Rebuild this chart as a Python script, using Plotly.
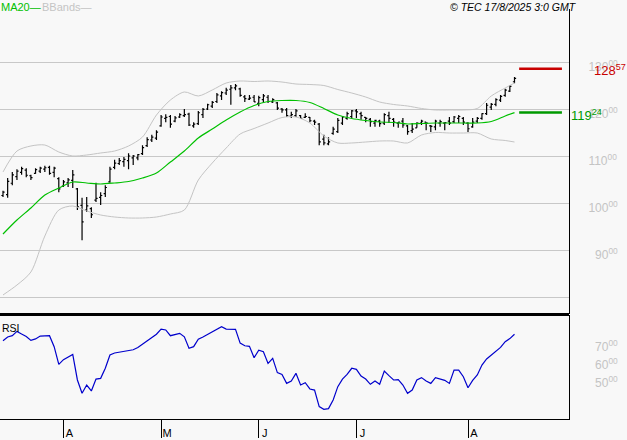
import plotly.graph_objects as go

# ---------------- data ----------------
open_ = [101.6, 101.8, 104.2, 105.6, 106.5, 107.0, 105.8, 106.3, 106.8, 107.2,
         107.6, 106.5, 105.2, 103.6, 104.3, 104.8, 103.0, 99.5, 98.5, 98.8,
         100.6, 101.2, 102.0, 104.5, 107.6, 108.4, 108.8, 109.0, 109.6, 109.6,
         110.5, 112.2, 113.4, 113.8, 116.4, 118.0, 118.4, 117.4, 118.3, 118.6,
         118.9, 116.4, 116.9, 118.8, 120.0, 120.6, 121.6, 122.8, 123.4, 124.2,
         124.5, 124.3, 122.6, 122.1, 122.5, 121.2, 122.0, 122.5, 121.5, 121.3,
         120.0, 119.8, 118.5, 118.6, 118.6, 118.2, 118.2, 117.4, 116.8, 113.6,
         112.6, 114.8, 115.2, 117.0, 118.0, 118.4, 119.6, 119.0, 118.2, 117.8,
         117.0, 117.4, 117.0, 118.6, 117.8, 117.0, 117.4, 116.4, 115.4, 116.0,
         117.0, 117.2, 116.4, 116.2, 117.0, 117.0, 117.4, 117.3, 118.0, 118.0,
         117.0, 116.2, 117.4, 118.0, 119.0, 120.4, 121.0, 121.9, 122.9, 123.8,
         125.8]
high = [102.6, 105.3, 106.6, 107.2, 107.7, 107.4, 106.0, 107.4, 107.7, 107.9,
        107.9, 107.7, 105.5, 104.9, 105.3, 107.0, 103.2, 101.1, 101.3, 99.1,
        104.3, 102.3, 103.8, 107.7, 109.2, 109.6, 109.8, 110.6, 110.2, 110.4,
        112.3, 114.0, 114.5, 115.5, 118.7, 118.9, 118.7, 118.5, 119.1, 120.0,
        119.2, 117.2, 119.6, 120.2, 121.1, 121.7, 123.4, 123.8, 124.5, 125.1,
        125.3, 124.5, 123.0, 123.0, 123.0, 122.8, 123.2, 123.0, 122.3, 121.5,
        120.2, 120.2, 119.4, 120.0, 118.7, 119.1, 118.3, 117.7, 117.0, 114.5,
        114.0, 116.2, 118.1, 118.5, 119.4, 119.8, 120.0, 119.4, 118.3, 118.1,
        117.7, 117.7, 119.1, 119.4, 118.1, 117.2, 118.1, 116.6, 117.0, 117.2,
        117.7, 117.2, 116.6, 117.7, 117.7, 117.2, 118.3, 118.5, 118.7, 118.3,
        117.2, 118.1, 118.3, 119.1, 121.3, 121.3, 122.3, 123.0, 124.3, 125.1,
        126.8]
low = [101.3, 101.1, 103.8, 104.9, 106.0, 105.5, 104.9, 106.2, 106.4, 106.6,
       106.0, 105.5, 102.3, 103.4, 103.4, 103.2, 98.5, 92.1, 98.1, 96.8,
       100.2, 99.6, 101.3, 104.3, 107.2, 108.1, 107.7, 107.2, 108.1, 109.1,
       110.2, 111.9, 113.0, 113.4, 116.2, 117.2, 116.0, 117.2, 118.1, 118.3,
       116.4, 116.0, 116.6, 118.1, 119.8, 120.2, 121.3, 121.9, 123.0, 120.9,
       124.0, 122.6, 121.5, 121.9, 121.5, 120.6, 121.3, 121.3, 121.3, 119.8,
       119.2, 118.3, 118.1, 118.3, 117.9, 118.1, 117.2, 116.6, 112.3, 112.3,
       112.3, 114.5, 114.9, 116.6, 117.7, 118.1, 118.1, 117.7, 117.2, 116.2,
       116.2, 116.2, 116.6, 117.0, 116.2, 116.0, 116.0, 114.5, 114.9, 116.0,
       116.6, 115.5, 115.1, 115.5, 116.2, 115.5, 116.6, 117.0, 117.0, 116.6,
       115.1, 116.0, 117.0, 117.7, 118.7, 119.8, 120.6, 121.5, 122.6, 123.6,
       125.5]
close = [102.3, 104.6, 106.0, 106.8, 107.3, 105.9, 105.4, 107.1, 107.4, 107.5,
         106.3, 107.4, 103.0, 104.5, 104.9, 106.0, 99.2, 96.0, 99.4, 97.5,
         101.0, 101.6, 103.3, 107.2, 108.5, 109.0, 109.3, 110.0, 110.0, 110.3,
         111.8, 113.5, 114.0, 115.1, 118.3, 118.2, 116.8, 118.1, 118.8, 118.8,
         116.6, 116.8, 119.2, 119.9, 120.9, 121.4, 123.0, 123.5, 124.0, 124.5,
         124.9, 122.9, 122.2, 122.3, 121.5, 122.4, 122.8, 121.6, 122.0, 120.2,
         119.8, 118.6, 118.8, 119.6, 118.0, 118.4, 117.5, 117.2, 113.0, 112.8,
         113.0, 115.7, 117.6, 118.3, 119.0, 119.6, 119.4, 118.6, 118.0, 117.3,
         117.6, 116.9, 118.8, 118.0, 117.2, 117.2, 116.6, 115.2, 115.7, 117.0,
         117.4, 117.0, 116.3, 117.4, 117.3, 117.1, 117.0, 118.3, 118.4, 117.2,
         115.8, 117.2, 118.0, 119.0, 120.8, 121.0, 122.0, 122.7, 124.0, 124.8,
         126.5]

rsi = [70.7, 72.8, 73.5, 75.9, 74.4, 73.1, 70.9, 71.7, 73.3, 73.3,
       73.5, 67.4, 57.6, 60.2, 61.5, 63.1, 48.9, 41.5, 46.1, 42.8,
       49.4, 49.8, 55.4, 62.8, 63.9, 64.4, 64.8, 65.6, 65.7, 66.9,
       68.7, 70.6, 72.4, 74.3, 77.2, 76.7, 73.5, 74.3, 74.8, 72.9,
       66.5, 67.4, 71.5, 72.8, 74.3, 75.4, 77.2, 78.5, 77.2, 77.0,
       77.0, 69.4, 67.9, 67.6, 61.3, 65.4, 64.6, 58.1, 60.9, 53.0,
       52.0, 47.0, 48.3, 52.6, 46.1, 47.4, 43.9, 43.3, 34.1, 32.6,
       33.0, 37.8, 45.2, 49.4, 52.0, 55.4, 54.8, 51.1, 49.4, 46.5,
       48.3, 46.5, 53.9, 51.3, 48.9, 49.1, 46.1, 41.5, 43.3, 48.9,
       50.2, 48.3, 47.0, 50.2, 49.4, 48.7, 47.0, 54.4, 54.4, 50.7,
       44.6, 48.7, 51.7, 57.2, 60.6, 62.8, 65.2, 67.0, 70.2, 71.9,
       74.3]

band_idx = [0, 3, 6, 9, 12, 15, 18, 21, 24, 27, 30, 33, 36, 39, 42, 45, 48, 51, 54,
            57, 60, 63, 66, 69, 72, 75, 78, 81, 84, 87, 90, 93, 96, 99, 102, 105, 108, 110]
ma20 = [93.40, 96.38, 98.94, 101.70, 103.19, 104.47, 104.26, 104.04, 104.26, 104.57,
        105.32, 106.38, 108.72, 111.06, 113.83, 115.74, 117.66, 119.36, 120.74, 121.60,
        121.81, 121.81, 121.38, 120.11, 118.72, 117.98, 117.55, 117.23, 117.13, 116.81,
        116.91, 117.02, 117.02, 117.02, 117.02, 117.34, 118.51, 119.24]
upper = [106.60, 111.06, 112.13, 112.34, 110.85, 110.00, 110.21, 110.64, 111.06, 112.13,
         114.04, 118.72, 121.91, 123.62, 122.77, 124.04, 125.53, 125.96, 125.85, 125.96,
         125.74, 125.32, 125.21, 125.00, 124.15, 123.40, 122.55, 121.49, 120.96, 120.64,
         120.11, 119.79, 119.79, 119.79, 120.11, 122.77, 124.47, 125.53]
lower = [80.43, 82.55, 85.32, 92.98, 98.51, 99.36, 98.30, 97.45, 97.02, 96.81,
         96.81, 97.02, 97.66, 98.51, 104.89, 108.51, 111.70, 114.68, 115.85, 117.02,
         118.19, 118.30, 117.02, 114.26, 112.77, 112.77, 112.98, 113.19, 113.19, 112.77,
         114.47, 115.00, 114.89, 114.89, 114.89, 113.62, 113.30, 112.98]

month_idx = [13, 34, 55, 76, 100]
month_lbl = ["A", "M", "J", "J", "A"]
price_ticks = [80, 90, 100, 110, 120, 130]
rsi_ticks = [50, 60, 70]
last_price = 128.57
last_ma = 119.24
stamp = "© TEC 17/8/2025 3:0 GMT"

# ---------------- figure ----------------
FONT = "Liberation Sans, Arial, sans-serif"
BG = "#f8f8f8"
GRID = "#c8c8c8"
LBL = "#c4c4c4"
MA_C = "#00c000"
BB_C = "#c4c4c4"

n = len(close)
x = list(range(n))

fig = go.Figure()
fig.add_trace(go.Scatter(x=band_idx, y=upper, mode="lines",
                         line=dict(color=BB_C, width=1, shape="spline", smoothing=0.8),
                         hoverinfo="skip"))
fig.add_trace(go.Scatter(x=band_idx, y=lower, mode="lines",
                         line=dict(color=BB_C, width=1, shape="spline", smoothing=0.8),
                         hoverinfo="skip"))
fig.add_trace(go.Scatter(x=band_idx, y=ma20, mode="lines",
                         line=dict(color=MA_C, width=1.2, shape="spline", smoothing=0.8),
                         hoverinfo="skip"))
fig.add_trace(go.Ohlc(x=x, open=open_, high=high, low=low, close=close,
                      increasing=dict(line=dict(color="black", width=1.2)),
                      decreasing=dict(line=dict(color="black", width=1.2)),
                      tickwidth=0.35))
# last-value markers at the right end
fig.add_trace(go.Scatter(x=[n, n + 9.2], y=[last_price, last_price], mode="lines",
                         line=dict(color="#c80000", width=2.5), hoverinfo="skip"))
fig.add_trace(go.Scatter(x=[n, n + 9.2], y=[last_ma, last_ma], mode="lines",
                         line=dict(color="#009a00", width=2.5), hoverinfo="skip"))
# RSI
fig.add_trace(go.Scatter(x=x, y=rsi, mode="lines", xaxis="x2", yaxis="y2",
                         line=dict(color="#0000cc", width=1.2), hoverinfo="skip"))

FS = "\u2007"
def price_txt(v):
    if v == 80:
        return " "
    s = str(v)
    return FS * (3 - len(s)) + s + "<sup>00</sup>"

def rsi_txt(v):
    return FS + str(v) + "<sup>00</sup>"

PLOT_W = 569.0
PLOT_H = 410.0
price_dom = [(419 - 314) / PLOT_H, 1.0]
rsi_dom = [0.0, (419 - 315) / PLOT_H]
xr = [-0.645, 121.72]

fig.update_layout(
    width=627, height=440,
    margin=dict(l=0, r=58, t=9, b=21, autoexpand=False),
    paper_bgcolor=BG, plot_bgcolor=BG,
    showlegend=False,
    font=dict(family=FONT, size=11, color="black"),
    xaxis=dict(domain=[0, 1], anchor="y", range=xr, showticklabels=False,
               showgrid=False, zeroline=False, showline=False, ticks="",
               rangeslider=dict(visible=False), fixedrange=True),
    xaxis2=dict(domain=[0, 1], anchor="y2", range=xr, matches="x",
                tickmode="array", tickvals=month_idx, ticktext=month_lbl,
                ticks="outside", ticklen=18, tickwidth=1, tickcolor="black",
                tickfont=dict(family=FONT, size=11, color="black"),
                ticklabelstandoff=-14, ticklabelshift=6,
                showgrid=False, zeroline=False, automargin=False,
                showline=True, linecolor="black", linewidth=1),
    yaxis=dict(domain=price_dom, anchor="x", side="right",
               range=[76.383, 141.277],
               tickmode="array", tickvals=price_ticks,
               ticktext=[price_txt(v) for v in price_ticks],
               tickfont=dict(family=FONT, size=12, color=LBL),
               ticks="", ticklabelstandoff=16, ticklabelshift=5,
               showgrid=True, gridcolor=GRID, gridwidth=1, zeroline=False,
               automargin=False,
               showline=True, linecolor="black", linewidth=1),
    yaxis2=dict(domain=rsi_dom, anchor="x2", side="right",
                range=[27.22, 85.0],
                tickmode="array", tickvals=rsi_ticks,
                ticktext=[rsi_txt(v) for v in rsi_ticks],
                tickfont=dict(family=FONT, size=12, color=LBL),
                ticks="", ticklabelstandoff=16, ticklabelshift=5,
                showgrid=False, zeroline=False, automargin=False,
                showline=True, linecolor="black", linewidth=1),
)

# thick separator between the panels
fig.add_shape(type="line", xref="paper", yref="paper", x0=0, x1=1,
              y0=(419 - 314.5) / PLOT_H, y1=(419 - 314.5) / PLOT_H,
              line=dict(color="black", width=3))

def py(pix):
    return (419 - pix) / PLOT_H

def px(pix):
    return pix / PLOT_W

anns = [
    dict(text="MA20—", x=px(0), y=py(0), xanchor="left", yanchor="top",
         font=dict(family=FONT, size=11, color=MA_C)),
    dict(text="BBands—", x=px(41), y=py(0), xanchor="left", yanchor="top",
         font=dict(family=FONT, size=11, color=BB_C)),
    dict(text="<i>" + stamp + "</i>", x=px(449), y=py(0), xanchor="left", yanchor="top",
         font=dict(family=FONT, size=10.5, color="black")),
    dict(text="RSI", x=px(1), y=py(327.5), xanchor="left", yanchor="middle",
         font=dict(family=FONT, size=10.5, color="black")),
]
for a in anns:
    a.update(xref="paper", yref="paper", showarrow=False, borderpad=0)
    fig.add_annotation(**a)

fig.add_annotation(text="128<sup>57</sup>", xref="paper", yref="y", x=px(593), y=last_price,
                   xanchor="left", yanchor="middle", yshift=-1, showarrow=False, borderpad=0,
                   font=dict(family=FONT, size=13, color="#c80000"))
fig.add_annotation(text="119<sup>24</sup>", xref="paper", yref="y", x=px(570), y=last_ma,
                   xanchor="left", yanchor="middle", yshift=-2, showarrow=False, borderpad=0,
                   font=dict(family=FONT, size=13, color="#009a00"))

fig.write_html("out.html", post_script="document.body.style.margin='0';",
               config={"displayModeBar": False})
